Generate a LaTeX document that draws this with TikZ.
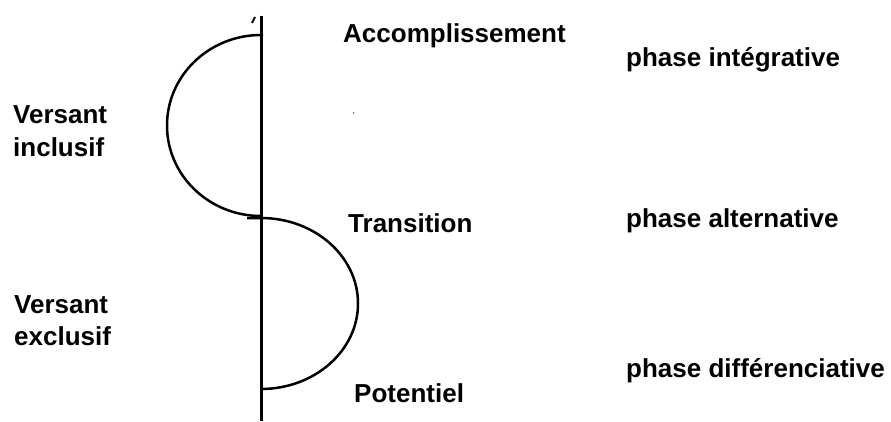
\documentclass[tikz,border=0pt]{standalone}
\usepackage{fontspec}
\setmainfont{Liberation Sans}
\begin{document}
\begin{tikzpicture}[x=1pt,y=1pt,
  lbl/.style={anchor=base west, inner sep=0pt, font=\fontsize{26}{32}\selectfont\bfseries},
  axisline/.style={line width=3pt},
  curve/.style={line width=2.5pt}]
\useasboundingbox (0,0) rectangle (891,421);
% vertical axis
\coordinate (top) at (261,405);
\coordinate (bot) at (261,0);
\draw[axisline] (top) -- (bot);
% small tick at the top
\coordinate (t1) at (252,398);
\coordinate (t2) at (255,404);
\draw[line width=2pt] (t1) -- (t2);
% stray dot
\coordinate (dot) at (353.5,308);
\fill[black!60] (dot) circle (0.8pt);
% upper (left) half-loop
\coordinate (a0) at (263,386);
\coordinate (a1) at (261,386);
\draw[curve] (a0) -- (a1) arc[start angle=90,end angle=270,x radius=94pt,y radius=90.5pt] coordinate (a2);
% lower (right) half-loop
\coordinate (b0) at (247,203);
\coordinate (b1) at (261,203);
\draw[curve] (b0) -- (b1) arc[start angle=90,end angle=-90,x radius=97pt,y radius=85.5pt] coordinate (b2);
% labels
\node[lbl] (acc) at (343,378) {Accomplissement};
\node[lbl] (trans) at (348,189) {Transition};
\node[lbl] (pot) at (354,19) {Potentiel};
\node[lbl] (pint) at (626,354) {phase intégrative};
\node[lbl] (palt) at (626,194) {phase alternative};
\node[lbl] (pdif) at (626,44) {phase différenciative};
\node[lbl] (vi1) at (13,297) {Versant};
\node[lbl] (vi2) at (13,265) {inclusif};
\node[lbl] (ve1) at (14,108) {Versant};
\node[lbl] (ve2) at (14,76) {exclusif};
\end{tikzpicture}
\end{document}
